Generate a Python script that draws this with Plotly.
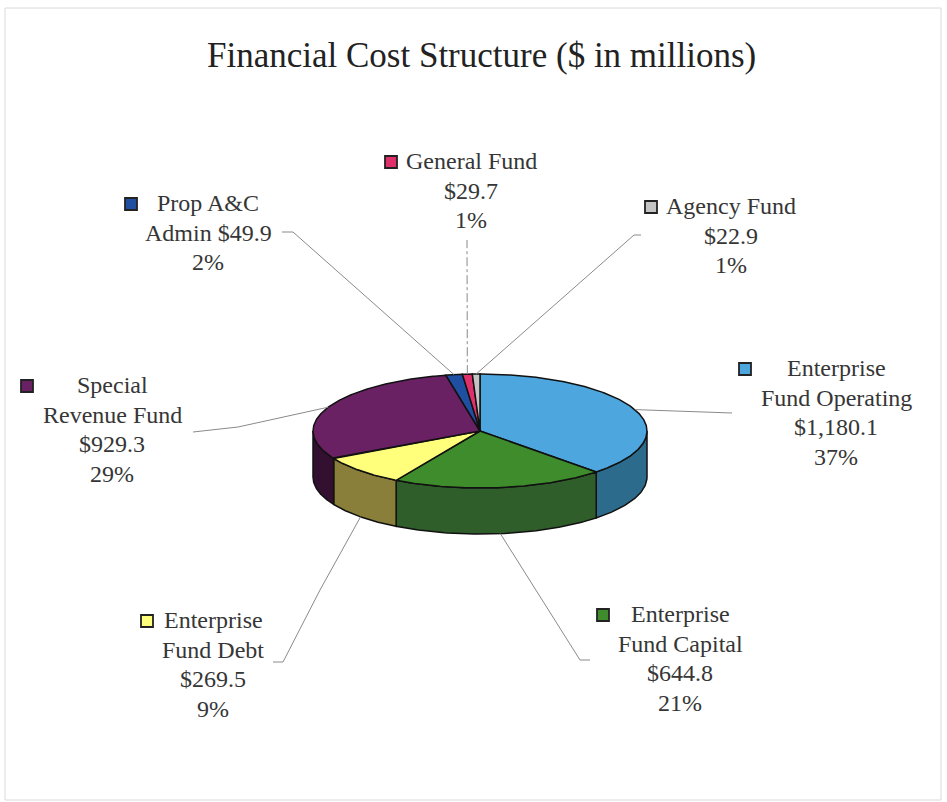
import numpy as np
import plotly.graph_objects as go

# ---- data ----
categories = ["Enterprise Fund Operating", "Enterprise Fund Capital", "Enterprise Fund Debt",
              "Special Revenue Fund", "Prop A&C Admin", "General Fund", "Agency Fund"]
values = [1180.1, 644.8, 269.5, 929.3, 49.9, 29.7, 22.9]
pct_labels = ["37%", "21%", "9%", "29%", "2%", "1%", "1%"]
name_lines = [["Enterprise", "Fund Operating"], ["Enterprise", "Fund Capital"],
              ["Enterprise", "Fund Debt"], ["Special", "Revenue Fund"],
              ["Prop A&C", "Admin"], ["General Fund"], ["Agency Fund"]]

# ---- styling ----
top_colors = ["#4da6de", "#3f8c2c", "#ffff7c", "#6a2163", "#1f4fa0", "#e0306c", "#c4c4c4"]
side_colors = ["#2d6b8c", "#2f5e2a", "#8a7f3a", "#33102f", "#17386f", "#9c1f4a", "#8a8a8a"]
FONT = "Liberation Serif"
TXT = "#363636"
W, H = 947, 802
CX, CY, RX, RY, DEPTH = 480, 431, 167, 57, 46

def ell(theta, drop=0.0):
    t = np.radians(theta)
    return CX + RX * np.sin(t), CY - RY * np.cos(t) + drop

total = sum(values)
bounds = np.concatenate([[0.0], np.cumsum(values) / total * 360.0])
mids = (bounds[:-1] + bounds[1:]) / 2

fig = go.Figure()

# side walls of the front half
for i in range(len(values)):
    lo, hi = max(bounds[i], 90.0), min(bounds[i + 1], 270.0)
    if hi <= lo:
        continue
    th = np.linspace(lo, hi, 80)
    xt, yt = ell(th)
    xb, yb = ell(th[::-1], DEPTH)
    fig.add_trace(go.Scatter(
        x=np.concatenate([xt, xb, xt[:1]]), y=np.concatenate([yt, yb, yt[:1]]),
        mode="lines", fill="toself", fillcolor=side_colors[i],
        line=dict(color="#111111", width=1.5), hoverinfo="skip", showlegend=False))

# top faces
for i in range(len(values)):
    a0, a1 = bounds[i], bounds[i + 1]
    th = np.linspace(a0, a1, max(int((a1 - a0) * 2), 6))
    xs, ys = ell(th)
    fig.add_trace(go.Scatter(
        x=np.concatenate([[CX], xs, [CX]]), y=np.concatenate([[CY], ys, [CY]]),
        mode="lines", fill="toself", fillcolor=top_colors[i],
        line=dict(color="#111111", width=1.5), hoverinfo="skip", showlegend=False))

# label blocks: (centre x, first line y, legend square x)
label_pos = [(836, 368, 745), (680, 614, 603), (213, 620, 147), (112, 385, 27),
             (208, 203, 131), (471, 161, 391), (731, 206, 651)]
# leader line end points (from the slice edge outwards)
leader_ends = [[(732, 413)], [(580, 660), (590, 660)], [(320, 590), (283, 662), (273, 662)],
               [(238, 427), (193, 432)], [(293, 232), (282, 232)], [(467, 240)],
               [(634, 235), (641, 235)]]

for i, m in enumerate(mids):
    front = 90 < m < 270
    ax0, ay0 = ell(m, DEPTH if front else 0.0)
    xs = [ax0] + [p[0] for p in leader_ends[i]]
    ys = [ay0] + [p[1] for p in leader_ends[i]]
    fig.add_trace(go.Scatter(
        x=xs, y=ys, mode="lines", hoverinfo="skip", showlegend=False,
        line=dict(color="#8a8a8a", width=1, dash="dashdot" if categories[i] == "General Fund" else "solid")))

annotations = []
sq_x, sq_y = [], []
LINE = 29.5
for i, (cx, y0, sx) in enumerate(label_pos):
    lines = list(name_lines[i])
    money = f"${values[i]:,.1f}"
    if categories[i] == "Prop A&C Admin":
        lines[-1] = lines[-1] + " " + money
    else:
        lines.append(money)
    lines.append(pct_labels[i])
    for k, t in enumerate(lines):
        annotations.append(dict(x=cx, y=y0 + k * LINE, text=t, showarrow=False,
                                xanchor="center", yanchor="middle",
                                font=dict(family=FONT, size=24, color=TXT)))
    sq_x.append(sx)
    sq_y.append(y0 + 1)

fig.add_trace(go.Scatter(
    x=sq_x, y=sq_y, mode="markers", hoverinfo="skip", showlegend=False,
    marker=dict(symbol="square", size=12, color=top_colors,
                line=dict(color="#222222", width=1.8))))

annotations.append(dict(x=481, y=55, text="Financial Cost Structure ($ in millions)",
                        showarrow=False, xanchor="center", yanchor="middle",
                        font=dict(family=FONT, size=35, color="#222222")))

fig.update_layout(
    width=W, height=H, autosize=False,
    margin=dict(l=0, r=0, t=0, b=0),
    paper_bgcolor="white", plot_bgcolor="white",
    xaxis=dict(range=[0, W], visible=False, fixedrange=True),
    yaxis=dict(range=[H, 0], visible=False, fixedrange=True),
    annotations=annotations,
    shapes=[dict(type="rect", x0=5, y0=8, x1=941, y1=800,
                 line=dict(color="#dadada", width=1), fillcolor="rgba(0,0,0,0)", layer="below")],
)

fig.write_html("out.html")
